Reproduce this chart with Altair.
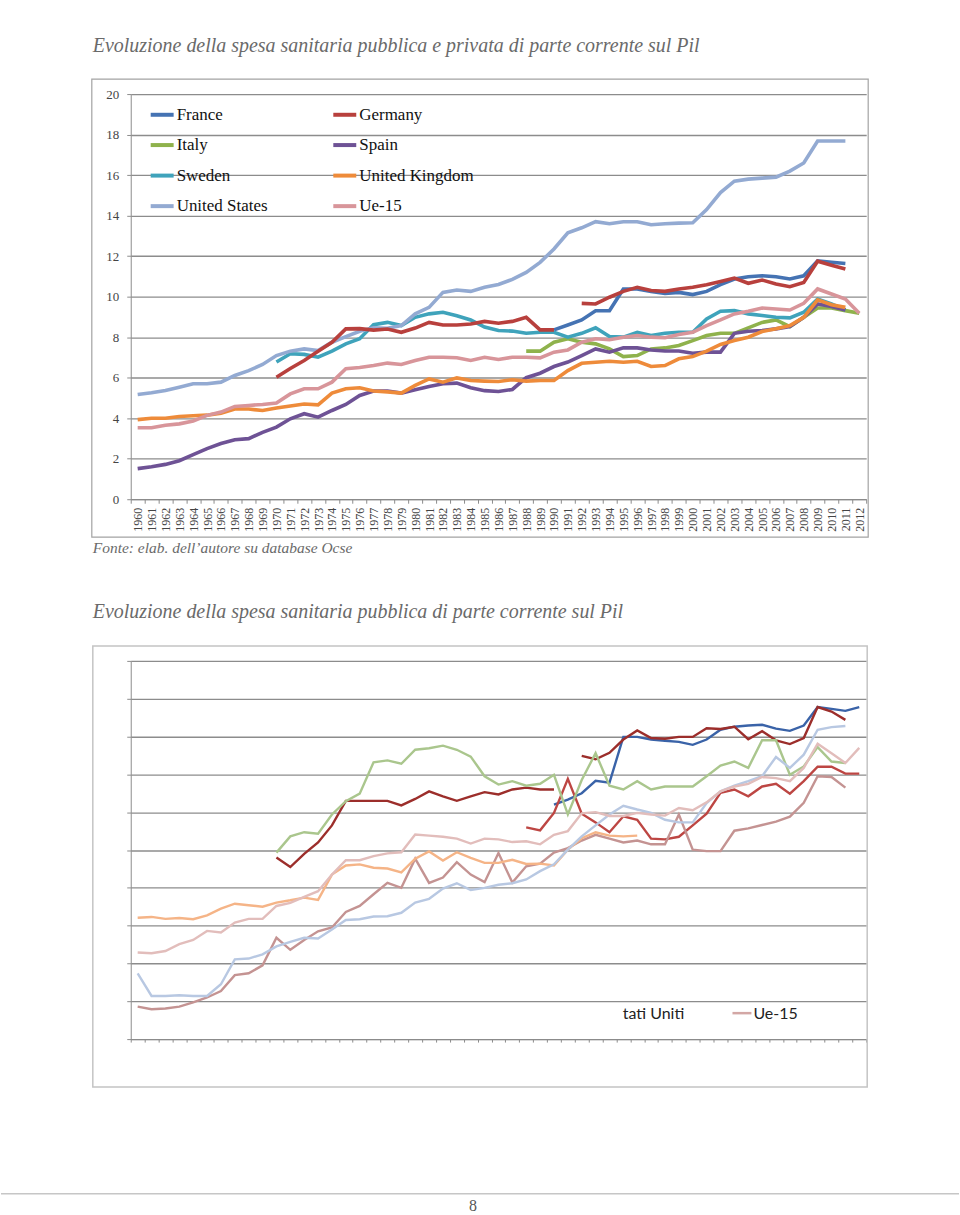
import altair as alt
import pandas as pd

YEARS = [str(y) for y in range(1960, 2013)]

# ---------------- Chart 1: public + private health spending (% GDP) ----------------
# listed column by column, as the two-column legend reads row by row
NAMES1 = ["France", "Italy", "Sweden", "United States", "Germany", "Spain", "United Kingdom", "Ue-15"]
COLORS1 = ["#4573B3", "#8FB24C", "#3FA3BB", "#93AAD2", "#B8403D", "#6E5295", "#EE8B3A", "#D8959A"]

france1 = (1990, [8.36, 8.6, 8.85, 9.3, 9.3, 10.38, 10.38, 10.26, 10.16, 10.21, 10.1, 10.26, 10.59,
                  10.87, 10.98, 11.03, 10.98, 10.87, 11.03, 11.77, 11.7, 11.64])
germany1 = (1970, [6.02, 6.45, 6.85, 7.3, 7.75, 8.41, 8.42, 8.35, 8.4, 8.24, 8.45, 8.73, 8.6, 8.6, 8.65,
                   8.78, 8.69, 8.78, 8.98, 8.36, 8.36, None, 9.67, 9.64, 9.97, 10.26, 10.46, 10.3, 10.26,
                   10.38, 10.46, 10.59, 10.75, 10.92, 10.66, 10.82, 10.62, 10.49, 10.7, 11.75, 11.55, 11.36])
italy1 = (1988, [7.31, 7.31, 7.75, 7.92, 7.75, 7.67, 7.42, 7.04, 7.09, 7.42, 7.47, 7.59, 7.83, 8.08, 8.19,
                 8.19, 8.46, 8.73, 8.85, 8.52, 8.98, 9.44, 9.44, 9.31, 9.18])
spain1 = (1960, [1.51, 1.6, 1.72, 1.9, 2.2, 2.5, 2.75, 2.94, 2.99, 3.3, 3.56, 3.97, 4.22, 4.05, 4.38, 4.68,
                 5.12, 5.34, 5.34, 5.24, 5.4, 5.57, 5.7, 5.73, 5.5, 5.36, 5.32, 5.42, 6.0, 6.22, 6.55, 6.77,
                 7.09, 7.42, 7.26, 7.47, 7.47, 7.37, 7.32, 7.32, 7.21, 7.26, 7.26, 8.19, 8.29, 8.33, 8.41,
                 8.52, 8.98, 9.64, 9.51, 9.34])
sweden1 = (1970, [6.77, 7.18, 7.15, 7.01, 7.31, 7.67, 7.92, 8.62, 8.73, 8.57, 8.98, 9.15, 9.23, 9.06, 8.85,
                  8.5, 8.33, 8.3, 8.19, 8.24, 8.24, 8.0, 8.19, 8.46, 8.03, 8.0, 8.24, 8.08, 8.19, 8.24, 8.24,
                  8.9, 9.28, 9.31, 9.15, 9.07, 8.98, 8.95, 9.23, 9.88, 9.64, 9.34])
uk1 = (1960, [3.93, 4.0, 4.0, 4.08, 4.12, 4.15, 4.25, 4.45, 4.45, 4.38, 4.5, 4.6, 4.7, 4.66, 5.24, 5.45, 5.5,
              5.34, 5.3, 5.24, 5.62, 5.94, 5.78, 5.99, 5.86, 5.83, 5.81, 5.9, 5.83, 5.86, 5.86, 6.35, 6.71,
              6.76, 6.81, 6.76, 6.81, 6.55, 6.6, 6.93, 7.04, 7.31, 7.64, 7.83, 8.0, 8.28, 8.41, 8.57, 8.98,
              9.84, 9.6, 9.47])
us1 = (1960, [5.17, 5.26, 5.37, 5.53, 5.7, 5.7, 5.78, 6.11, 6.35, 6.65, 7.09, 7.31, 7.42, 7.34, 7.75, 8.03,
              8.29, 8.46, 8.44, 8.57, 9.15, 9.47, 10.21, 10.33, 10.26, 10.46, 10.6, 10.85, 11.2, 11.69, 12.35,
              13.15, 13.4, 13.7, 13.6, 13.7, 13.7, 13.55, 13.6, 13.63, 13.65, 14.3, 15.14, 15.7, 15.8, 15.85,
              15.9, 16.2, 16.6, 17.68, 17.68, 17.68])
ue1 = (1960, [3.53, 3.53, 3.65, 3.72, 3.86, 4.14, 4.3, 4.58, 4.63, 4.68, 4.75, 5.2, 5.45, 5.45, 5.78, 6.44,
              6.5, 6.6, 6.72, 6.65, 6.85, 7.01, 7.01, 6.98, 6.85, 7.01, 6.9, 7.01, 7.01, 6.98, 7.26, 7.37,
              7.75, 7.92, 7.87, 8.0, 8.08, 8.0, 7.97, 8.13, 8.24, 8.57, 8.85, 9.15, 9.28, 9.44, 9.39, 9.34,
              9.67, 10.38, 10.13, 9.88, 9.18])
SERIES1 = {"France": france1, "Germany": germany1, "Italy": italy1, "Spain": spain1, "Sweden": sweden1,
           "United Kingdom": uk1, "United States": us1, "Ue-15": ue1}
TICKS1 = [0, 2, 4, 6, 8, 10, 12, 14, 16, 18, 20]

# ---------------- Chart 2: public health spending (% GDP) ----------------
NAMES2 = ["Francia", "Germania", "Italia", "Spagna", "Svezia", "Regno Unito", "Stati Uniti", "Ue-15 "]
COLORS2 = ["#3A63A8", "#9C2E2B", "#BD4643", "#C49392", "#AAC68D", "#F5B487", "#B8C8E2", "#E2BDBB"]

francia2 = (1990, [6.2, 6.33, 6.5, 6.83, 6.78, 7.99, 7.99, 7.92, 7.89, 7.86, 7.78, 7.92, 8.18, 8.26, 8.29,
                   8.31, 8.21, 8.15, 8.29, 8.78, 8.73, 8.68, 8.78])
germania2 = (1970, [4.8, 4.55, 4.9, 5.2, 5.65, 6.3, 6.3, 6.3, 6.3, 6.18, 6.35, 6.55, 6.42, 6.3, 6.42, 6.53,
                    6.47, 6.6, 6.65, 6.6, 6.6, None, 7.49, 7.4, 7.57, 7.92, 8.16, 7.96, 7.94, 7.99, 7.99,
                    8.22, 8.2, 8.26, 7.93, 8.14, 7.9, 7.8, 7.96, 8.78, 8.66, 8.44])
italia2 = (1988, [5.6, 5.52, 5.98, 6.88, 5.96, 5.73, 5.47, 5.89, 5.8, 5.3, 5.28, 5.35, 5.65, 5.96, 6.51,
                  6.6, 6.42, 6.68, 6.75, 6.49, 6.82, 7.2, 7.2, 7.02, 7.02])
spagna2 = (1960, [0.86, 0.79, 0.81, 0.86, 0.97, 1.1, 1.27, 1.69, 1.74, 1.95, 2.68, 2.36, 2.62, 2.85, 2.95,
                  3.36, 3.52, 3.83, 4.13, 4.0, 4.77, 4.13, 4.27, 4.68, 4.35, 4.15, 4.92, 4.14, 4.57, 4.64,
                  4.93, 5.05, 5.25, 5.4, 5.3, 5.2, 5.25, 5.15, 5.15, 5.94, 5.01, 4.97, 4.97, 5.51, 5.57,
                  5.66, 5.75, 5.88, 6.25, 6.95, 6.93, 6.65])
svezia2 = (1970, [4.93, 5.36, 5.47, 5.43, 5.94, 6.29, 6.49, 7.32, 7.37, 7.28, 7.65, 7.69, 7.76, 7.65, 7.47,
                  6.95, 6.73, 6.82, 6.7, 6.75, 6.99, 5.94, 6.85, 7.56, 6.7, 6.6, 6.82, 6.6, 6.68, 6.68,
                  6.68, 6.95, 7.23, 7.34, 7.17, 7.9, 7.9, 6.99, 7.21, 7.72, 7.34, 7.3])
regno2 = (1960, [3.21, 3.23, 3.18, 3.2, 3.17, 3.27, 3.45, 3.58, 3.54, 3.5, 3.61, 3.67, 3.74, 3.68, 4.35,
                 4.59, 4.62, 4.53, 4.51, 4.41, 4.77, 4.96, 4.72, 4.94, 4.79, 4.66, 4.66, 4.74, 4.63, 4.64,
                 4.59, 5.01, 5.31, 5.47, 5.38, 5.36, 5.38])
stati2 = (1960, [1.74, 1.14, 1.14, 1.16, 1.14, 1.14, 1.45, 2.11, 2.13, 2.24, 2.45, 2.57, 2.68, 2.66, 2.9,
                 3.15, 3.17, 3.24, 3.25, 3.34, 3.61, 3.71, 3.98, 4.12, 3.94, 4.0, 4.08, 4.12, 4.22, 4.44,
                 4.62, 5.01, 5.36, 5.65, 5.94, 6.17, 6.07, 5.98, 5.8, 5.73, 5.73, 6.24, 6.55, 6.7, 6.82,
                 6.95, 7.46, 7.17, 7.52, 8.18, 8.25, 8.28])
ue2 = (1960, [2.29, 2.27, 2.33, 2.51, 2.62, 2.86, 2.82, 3.08, 3.18, 3.18, 3.52, 3.6, 3.76, 3.91, 4.35, 4.73,
              4.73, 4.84, 4.91, 4.94, 5.41, 5.38, 5.35, 5.3, 5.17, 5.3, 5.28, 5.21, 5.23, 5.15, 5.4, 5.5,
              5.97, 6.0, 5.9, 5.9, 5.98, 5.94, 5.91, 6.11, 6.05, 6.26, 6.55, 6.68, 6.75, 6.93, 6.9, 6.82,
              7.17, 7.81, 7.56, 7.3, 7.7])
SERIES2 = dict(zip(NAMES2, [francia2, germania2, italia2, spagna2, svezia2, regno2, stati2, ue2]))
TICKS2 = [0, 1, 2, 3, 4, 5, 6, 7, 8, 9, 10]

TITLE1 = "Evoluzione della spesa sanitaria pubblica e privata di parte corrente sul Pil"
TITLE2 = "Evoluzione della spesa sanitaria pubblica di parte corrente sul Pil"
SOURCE = "Fonte: elab. dell\u2019autore su database Ocse"
LEGEND2 = ["tati Uniti", "Ue-15"]
PAGE_NO = "8"


def to_long(series, names):
    rows = []
    for name in names:
        start, vals = series[name]
        seg, gap = 0, True
        for i, v in enumerate(vals):
            if v is None:
                gap = True
                continue
            if gap:
                seg += 1
                gap = False
            rows.append({"year": str(start + i), "serie": name, "seg": f"{name}-{seg}", "value": v})
    return pd.DataFrame(rows)


df1 = to_long(SERIES1, NAMES1)
df2 = to_long(SERIES2, NAMES2)

SERIF = "Liberation Serif"
GRID = "#8c8c8c"
ONE = alt.Data(values=[{}])


def deco_text(txt, x, y, **kw):
    return alt.Chart(ONE).mark_text(text=txt, align="left", baseline="middle", **kw).encode(
        x=alt.value(x), y=alt.value(y))


def deco_rect(x, x2, y, y2, **kw):
    return alt.Chart(ONE).mark_rect(**kw).encode(
        x=alt.value(x), x2=alt.value(x2), y=alt.value(y), y2=alt.value(y2))


def deco_rule(x, x2, y, **kw):
    return alt.Chart(ONE).mark_rule(**kw).encode(
        x=alt.value(x), x2=alt.value(x2), y=alt.value(y))


# ---- chart 1 ----
lines1 = alt.Chart(df1).mark_line(strokeWidth=3.6).encode(
    x=alt.X("year:O", scale=alt.Scale(domain=YEARS, type="band", paddingInner=0, paddingOuter=0),
            axis=alt.Axis(title=None, labelAngle=-90, labelFont=SERIF, labelFontSize=12,
                          labelColor="#444", tickBand="extent", tickSize=4, tickColor=GRID,
                          domainColor=GRID, labelPadding=4, grid=False)),
    y=alt.Y("value:Q", scale=alt.Scale(domain=[0, 20], nice=False),
            axis=alt.Axis(title=None, values=TICKS1, labelFont=SERIF, labelFontSize=13,
                          labelColor="#444", grid=True, gridColor=GRID, gridWidth=1.3,
                          tickSize=4, tickColor=GRID, domainColor=GRID, labelPadding=8)),
    color=alt.Color("serie:N", scale=alt.Scale(domain=NAMES1, range=COLORS1),
                    legend=alt.Legend(title=None, orient="none", legendX=18, legendY=7, columns=2,
                                      symbolType="stroke", symbolSize=529, symbolStrokeWidth=4,
                                      labelFont=SERIF, labelFontSize=17, labelColor="#111",
                                      columnPadding=57, rowPadding=8.6, labelOffset=1, padding=0)),
    detail="seg:N",
)

chart1 = alt.layer(
    deco_rect(-130, 830, -93, 1122, fill="white", opacity=0),
    deco_rect(-39, 739, -15, 444, fillOpacity=0, stroke="#a3a3a3", strokeWidth=1.2),
    lines1,
    deco_text(TITLE1, -38, -48, font=SERIF, fontSize=20, fontStyle="italic", color="#6a6a6a"),
    deco_text(SOURCE, -38, 455, font=SERIF, fontSize=15.5, fontStyle="italic", color="#6a6a6a"),
).properties(width=737, height=406)

# ---- chart 2 ----
lines2 = alt.Chart(df2).mark_line(strokeWidth=2.4).encode(
    x=alt.X("year:O", scale=alt.Scale(domain=YEARS, type="band", paddingInner=0, paddingOuter=0),
            axis=alt.Axis(title=None, labels=False, tickBand="extent", tickSize=3, tickColor=GRID,
                          domainColor=GRID, grid=False)),
    y=alt.Y("value:Q", scale=alt.Scale(domain=[0, 10], nice=False),
            axis=alt.Axis(title=None, values=TICKS2, labels=False, grid=True, gridColor=GRID,
                          gridWidth=1.3, tickSize=4, tickColor=GRID, domainColor=GRID)),
    color=alt.Color("serie:N", scale=alt.Scale(domain=NAMES2, range=COLORS2), legend=None),
    detail="seg:N",
)

chart2 = alt.layer(
    deco_rect(-38, 738, -15, 427, fillOpacity=0, stroke="#c4c4c4", strokeWidth=1.5),
    lines2,
    deco_text(TITLE2, -38, -49, font=SERIF, fontSize=20, fontStyle="italic", color="#6a6a6a"),
    deco_text(LEGEND2[0], 493, 354, font="Lato", fontSize=16, color="#222"),
    deco_rule(603, 622, 353, color="#d3a7a5", strokeWidth=2.5),
    deco_text(LEGEND2[1], 624, 354, font="Lato", fontSize=16, color="#222"),
    deco_rule(-130, 830, 534, color="#c6c6c6", strokeWidth=1.5),
    alt.Chart(ONE).mark_text(text=PAGE_NO, align="center", baseline="middle", font=SERIF,
                             fontSize=16, color="#555").encode(x=alt.value(343), y=alt.value(546)),
).properties(width=737, height=379)

chart = alt.vconcat(chart1, chart2, spacing=162, bounds="flush").resolve_scale(
    color="independent", x="independent", y="independent"
).properties(padding=0, background="white").configure_view(stroke=None)

chart.save("out.html", embed_options={"renderer": "svg", "actions": False})
